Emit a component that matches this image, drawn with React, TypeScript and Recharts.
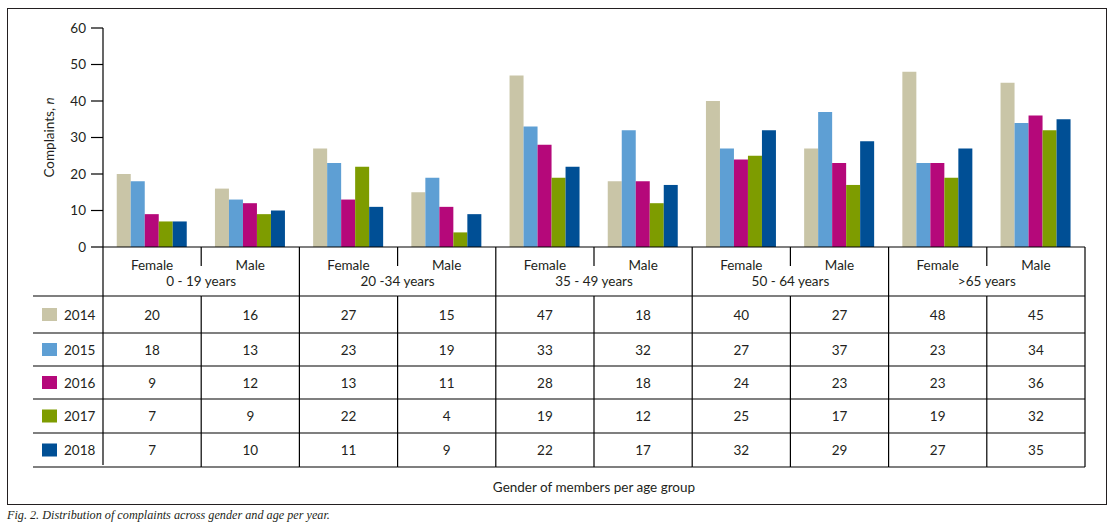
import React from "react";
import { BarChart, Bar, XAxis, YAxis, Label } from "recharts";

const categories = ["Female", "Male", "Female", "Male", "Female", "Male", "Female", "Male", "Female", "Male"];
const ageGroups = ["0 - 19 years", "20 -34 years", "35 - 49 years", "50 - 64 years", ">65 years"];
const years = ["2014", "2015", "2016", "2017", "2018"];

const values2014 = [20, 16, 27, 15, 47, 18, 40, 27, 48, 45];
const values2015 = [18, 13, 23, 19, 33, 32, 27, 37, 23, 34];
const values2016 = [9, 12, 13, 11, 28, 18, 24, 23, 23, 36];
const values2017 = [7, 9, 22, 4, 19, 12, 25, 17, 19, 32];
const values2018 = [7, 10, 11, 9, 22, 17, 32, 29, 27, 35];
const seriesValues = [values2014, values2015, values2016, values2017, values2018];

const yTicks = [0, 10, 20, 30, 40, 50, 60];
const colors = ["#c9c5a7", "#5e9fd4", "#b5087a", "#7e9c00", "#004f95"];

const data = categories.map((name, i) => {
  const row: Record<string, any> = { name };
  years.forEach((yr, s) => {
    row["y" + yr] = seriesValues[s][i];
  });
  return row;
});

// layout
const W = 1118;
const H = 525;
const PLOT_LEFT = 103;
const PLOT_RIGHT = 1085;
const PLOT_TOP = 28;
const AXIS_Y = 247;
const Y_AXIS_W = 60;
const BAND = (PLOT_RIGHT - PLOT_LEFT) / categories.length;
const ROW_LINES = [49, 86, 119, 152, 186, 220]; // offsets below the axis
const INK = "#231f20";
const FONT = "Lato, 'Liberation Sans', sans-serif";
const FS = 13.5;

function TableTick(props: any) {
  const { x, y, payload } = props;
  const i: number = props.index ?? payload.index;
  const left = x - BAND / 2;
  const right = x + BAND / 2;
  const lines = ROW_LINES.map((d) => y + d);
  const bottom = lines[lines.length - 1];
  const groupStart = i % 2 === 0;
  const lineLeft = i === 0 ? 33 : left;

  return (
    <g fontFamily={FONT} fontSize={FS} fill={INK}>
      {groupStart ? (
        <line x1={left} x2={left} y1={y} y2={i === 0 ? bottom - 2 : bottom} stroke="#000" strokeWidth={1.2} />
      ) : (
        <>
          <line x1={left} x2={left} y1={y} y2={y + 19} stroke="#000" strokeWidth={1.2} />
          <line x1={left} x2={left} y1={lines[0]} y2={bottom} stroke="#000" strokeWidth={1.2} />
        </>
      )}
      {i === categories.length - 1 && (
        <line x1={right} x2={right} y1={y} y2={bottom} stroke="#000" strokeWidth={1.2} />
      )}
      {lines.map((ly, k) => (
        <line key={k} x1={lineLeft} x2={right} y1={ly} y2={ly} stroke="#000" strokeWidth={1.2} />
      ))}
      <text x={x} y={y + 18} textAnchor="middle" dominantBaseline="central">
        {payload.value}
      </text>
      {groupStart && (
        <text x={right} y={y + 34} textAnchor="middle" dominantBaseline="central">
          {ageGroups[i / 2]}
        </text>
      )}
      {years.map((yr, s) => {
        const cy = (lines[s] + lines[s + 1]) / 2;
        return (
          <g key={yr}>
            <text x={x} y={cy} textAnchor="middle" dominantBaseline="central">
              {seriesValues[s][i]}
            </text>
            {i === 0 && (
              <>
                <rect x={42} y={cy - 6.5} width={15} height={13} fill={colors[s]} />
                <text x={64} y={cy} dominantBaseline="central">
                  {yr}
                </text>
              </>
            )}
          </g>
        );
      })}
      {i === 0 && (
        <text x={(PLOT_LEFT + PLOT_RIGHT) / 2} y={y + 240} textAnchor="middle" dominantBaseline="central">
          Gender of members per age group
        </text>
      )}
    </g>
  );
}

function YTitle(props: any) {
  const vb = props.viewBox || {};
  const cx = 49;
  const cy = (vb.y ?? PLOT_TOP) + (vb.height ?? AXIS_Y - PLOT_TOP) / 2;
  return (
    <text
      x={cx}
      y={cy}
      transform={`rotate(-90 ${cx} ${cy})`}
      textAnchor="middle"
      dominantBaseline="central"
      fontFamily={FONT}
      fontSize={FS}
      fill={INK}
    >
      Complaints, <tspan fontStyle="italic">n</tspan>
    </text>
  );
}

export default function App() {
  return (
    <div style={{ position: "absolute", left: 0, top: 0, width: W, height: H, background: "#fff" }}>
      <div
        style={{
          position: "absolute",
          left: 7,
          top: 8,
          width: 1098,
          height: 495,
          border: `1.5px solid ${INK}`,
        }}
      />
      <div style={{ position: "absolute", left: 0, top: 0 }}>
        <BarChart
          width={W}
          height={H}
          data={data}
          margin={{ top: PLOT_TOP, right: W - PLOT_RIGHT, left: PLOT_LEFT - Y_AXIS_W, bottom: 0 }}
          barCategoryGap="14%"
          barGap={0}
        >
          <XAxis
            dataKey="name"
            height={H - AXIS_Y}
            interval={0}
            tickLine={false}
            tickSize={0}
            tickMargin={0}
            axisLine={{ stroke: "#000", strokeWidth: 1.2 }}
            tick={<TableTick />}
          />
          <YAxis
            width={Y_AXIS_W}
            domain={[0, 60]}
            ticks={yTicks}
            interval={0}
            tickSize={12}
            tickMargin={5}
            axisLine={{ stroke: "#000", strokeWidth: 1.2 }}
            tickLine={{ stroke: "#000", strokeWidth: 1.2 }}
            tick={{ fill: INK, fontSize: FS, fontFamily: FONT }}
          >
            <Label content={<YTitle />} />
          </YAxis>
          {years.map((yr, s) => (
            <Bar key={yr} dataKey={"y" + yr} fill={colors[s]} isAnimationActive={false} />
          ))}
        </BarChart>
      </div>
      <div
        style={{
          position: "absolute",
          left: 7,
          top: 508,
          fontFamily: "'Liberation Serif', serif",
          fontStyle: "italic",
          fontSize: 12.2,
          color: INK,
          whiteSpace: "nowrap",
        }}
      >
        Fig. 2. Distribution of complaints across gender and age per year.
      </div>
    </div>
  );
}
